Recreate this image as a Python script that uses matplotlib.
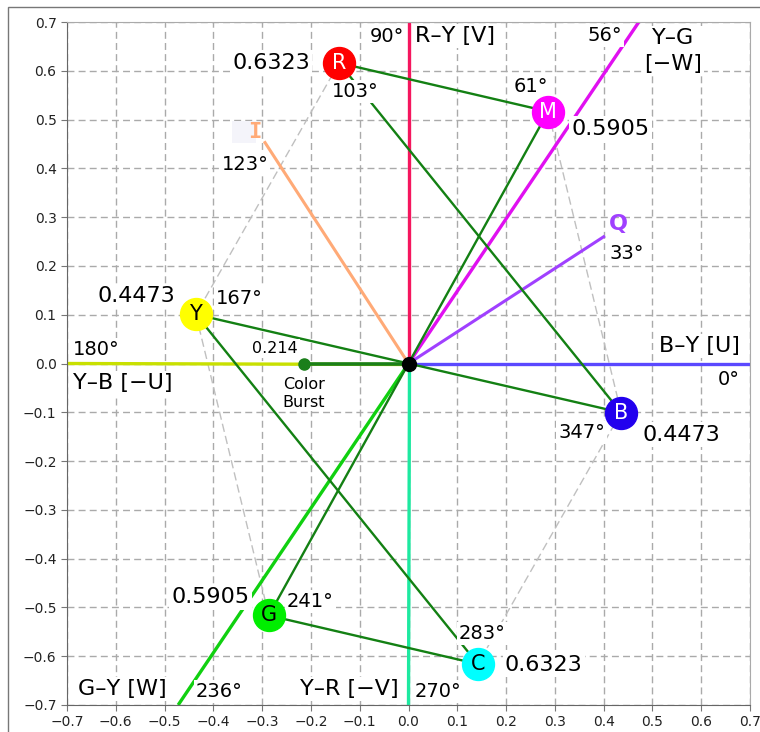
import matplotlib
matplotlib.use("Agg")
import matplotlib.pyplot as plt
import numpy as np
from matplotlib.patches import Rectangle

# colour bar vectors (degrees, magnitude)
bar_names = ["R", "M", "B", "C", "G", "Y"]
bar_angles = [103, 61, 347, 283, 241, 167]
bar_mags = [0.6323, 0.5905, 0.4473, 0.6323, 0.5905, 0.4473]
bar_colors = ["#ff0000", "#ff00ff", "#2200ee", "#00ffff", "#00ee00", "#ffff00"]
bar_text_colors = ["white", "white", "white", "black", "black", "black"]

# reference axes
axis_angles = [90, 270, 0, 180, 56, 236]
axis_colors = ["#f5165e", "#1de9a0", "#5a48ff", "#c8e000", "#e010f0", "#10d010"]

# I / Q axes
iq_names = ["I", "Q"]
iq_angles = [123, 33]
iq_lengths = [0.54, 0.477]
iq_colors = ["#ffaa77", "#a040ff"]

burst_angle = 180
burst_mag = 0.214

ticks = np.round(np.arange(-0.7, 0.71, 0.1), 1)


def polar(ang, r):
    a = np.deg2rad(ang)
    return r * np.cos(a), r * np.sin(a)


def ray_length(ang, lim=0.7):
    a = np.deg2rad(ang)
    c, s = abs(np.cos(a)), abs(np.sin(a))
    return min(lim / c if c > 1e-9 else 1e9, lim / s if s > 1e-9 else 1e9)


def tick_fmt(v, pos):
    if abs(v) < 1e-9:
        v = 0.0
    return f"{v:.1f}".replace("-", "\u2212")


fig = plt.figure(figsize=(7.6, 7.32), dpi=100)
ax = fig.add_axes([67 / 760, 27 / 732, 683 / 760, 683 / 732])
fig.patches.append(Rectangle((8 / 760, -0.05), 1.1, 1 - 7 / 732 + 0.05,
                             transform=fig.transFigure, fill=False,
                             edgecolor="#777777", lw=1.0, clip_on=False))

ax.set_xlim(-0.7, 0.7)
ax.set_ylim(-0.7, 0.7)
ax.set_xticks(ticks)
ax.set_yticks(ticks)
ax.xaxis.set_major_formatter(tick_fmt)
ax.yaxis.set_major_formatter(tick_fmt)
ax.tick_params(labelsize=10, labelcolor="#222222", color="#777777", length=4)
ax.grid(True, linestyle=(0, (5, 3)), color="#aaaaaa", lw=1.0, zorder=0)
ax.set_axisbelow(True)
for side in ["left", "bottom"]:
    ax.spines[side].set_color("#666666")
for side in ["top", "right"]:
    ax.spines[side].set_color("#aaaaaa")

# reference axes rays
for ang, col in zip(axis_angles, axis_colors):
    ex, ey = polar(ang, ray_length(ang))
    ax.plot([0, ex], [0, ey], color=col, lw=2.4, zorder=2, solid_capstyle="butt")

# I and Q rays
for ang, r, col in zip(iq_angles, iq_lengths, iq_colors):
    ex, ey = polar(ang, r)
    ax.plot([0, ex], [0, ey], color=col, lw=2.2, zorder=2)

px, py = polar(np.array(bar_angles), np.array(bar_mags))
pts = dict(zip(bar_names, zip(px, py)))

# dashed hexagon edges
for a, b in [("R", "Y"), ("Y", "G"), ("M", "B"), ("B", "C")]:
    ax.plot([pts[a][0], pts[b][0]], [pts[a][1], pts[b][1]],
            color="#c0c0c0", lw=1.0, ls=(0, (6, 3)), zorder=1.5)

# solid green connections
for a, b in [("R", "M"), ("R", "B"), ("Y", "B"), ("Y", "C"), ("M", "G"), ("G", "C")]:
    ax.plot([pts[a][0], pts[b][0]], [pts[a][1], pts[b][1]],
            color="#138013", lw=1.7, zorder=3)

# colour burst
bx, by = polar(burst_angle, burst_mag)
ax.plot([0, bx], [0, by], color="#1a7f1a", lw=2.6, zorder=3.2)
ax.plot(bx, by, "o", color="#1a7f1a", ms=8, zorder=3.3)
ax.plot(0, 0, "o", color="black", ms=10, zorder=6)

box = dict(boxstyle="square,pad=0.1", facecolor="white", edgecolor="none")


def label(x, y, s, dx, dy, ha, size=16):
    ax.annotate(s, (x, y), xytext=(dx, dy), textcoords="offset pixels",
                ha=ha, va="center", fontsize=size, bbox=box, zorder=5)


# markers with letters
for n, c, tc in zip(bar_names, bar_colors, bar_text_colors):
    x, y = pts[n]
    ax.plot(x, y, "o", color=c, ms=23, zorder=7)
    ax.text(x, y, n, color=tc, fontsize=15, ha="center", va="center", zorder=8)

mag_off = {"R": (-29, 0, "right"), "M": (23, -17, "left"), "B": (21, -22, "left"),
           "C": (27, -1, "left"), "G": (-19, 18, "right"), "Y": (-21, 18, "right")}
ang_off = {"R": (-7, -29, "left"), "M": (0, 25, "right"), "B": (-16, -20, "right"),
           "C": (-19, 31, "left"), "G": (18, 14, "left"), "Y": (20, 16, "left")}
for n, ang, m in zip(bar_names, bar_angles, bar_mags):
    x, y = pts[n]
    dx, dy, ha = mag_off[n]
    label(x, y, f"{m:.4f}", dx, dy, ha, 16)
    dx, dy, ha = ang_off[n]
    label(x, y, f"{ang}\u00b0", dx, dy, ha, 14)

# burst labels
label(bx, by, f"{burst_mag}", -6, 15, "right", 11.5)
label(bx, by, "Color\nBurst", 0, -30, "center", 11.5)

txt = dict(va="center", bbox=box, zorder=5)
ax.text(-0.008, 0.671, "90\u00b0", ha="right", fontsize=14, **txt)
ax.text(0.013, 0.671, "R\u2013Y [V]", ha="left", fontsize=16, **txt)
ax.text(0.437, 0.673, "56\u00b0", ha="right", fontsize=14, **txt)
ax.text(0.542, 0.640, "Y\u2013G\n[\u2212W]", ha="center", fontsize=16,
        multialignment="center", linespacing=1.35, **txt)
ax.text(-0.688, 0.028, "180\u00b0", ha="left", fontsize=14, **txt)
ax.text(-0.688, -0.040, "Y\u2013B [\u2212U]", ha="left", fontsize=16, **txt)
ax.text(0.680, 0.036, "B\u2013Y [U]", ha="right", fontsize=16, **txt)
ax.text(0.680, -0.032, "0\u00b0", ha="right", fontsize=14, **txt)
ax.text(-0.677, -0.667, "G\u2013Y [W]", ha="left", fontsize=16, **txt)
ax.text(-0.436, -0.673, "236\u00b0", ha="left", fontsize=14, **txt)
ax.text(-0.222, -0.667, "Y\u2013R [\u2212V]", ha="left", fontsize=16, **txt)
ax.text(0.013, -0.673, "270\u00b0", ha="left", fontsize=14, **txt)

# I / Q labels
ax.text(-0.3146, 0.4745, "\u2003", fontsize=16, ha="right", va="center", zorder=4.9,
        bbox=dict(boxstyle="square,pad=0.05", facecolor="#f4f4fa", edgecolor="none"))
ax.text(-0.3146, 0.4745, "I", color=iq_colors[0], fontsize=16, fontweight="bold",
        family="DejaVu Sans Mono", ha="center", va="center", zorder=5)
ax.text(-0.335, 0.407, "123\u00b0", ha="center", fontsize=14, **txt)
ax.text(0.4295, 0.286, "Q", color=iq_colors[1], fontsize=16, fontweight="bold",
        ha="center", va="center", zorder=5)
ax.text(0.448, 0.2265, "33\u00b0", ha="center", fontsize=14, **txt)

fig.savefig("out.png", dpi=100)
